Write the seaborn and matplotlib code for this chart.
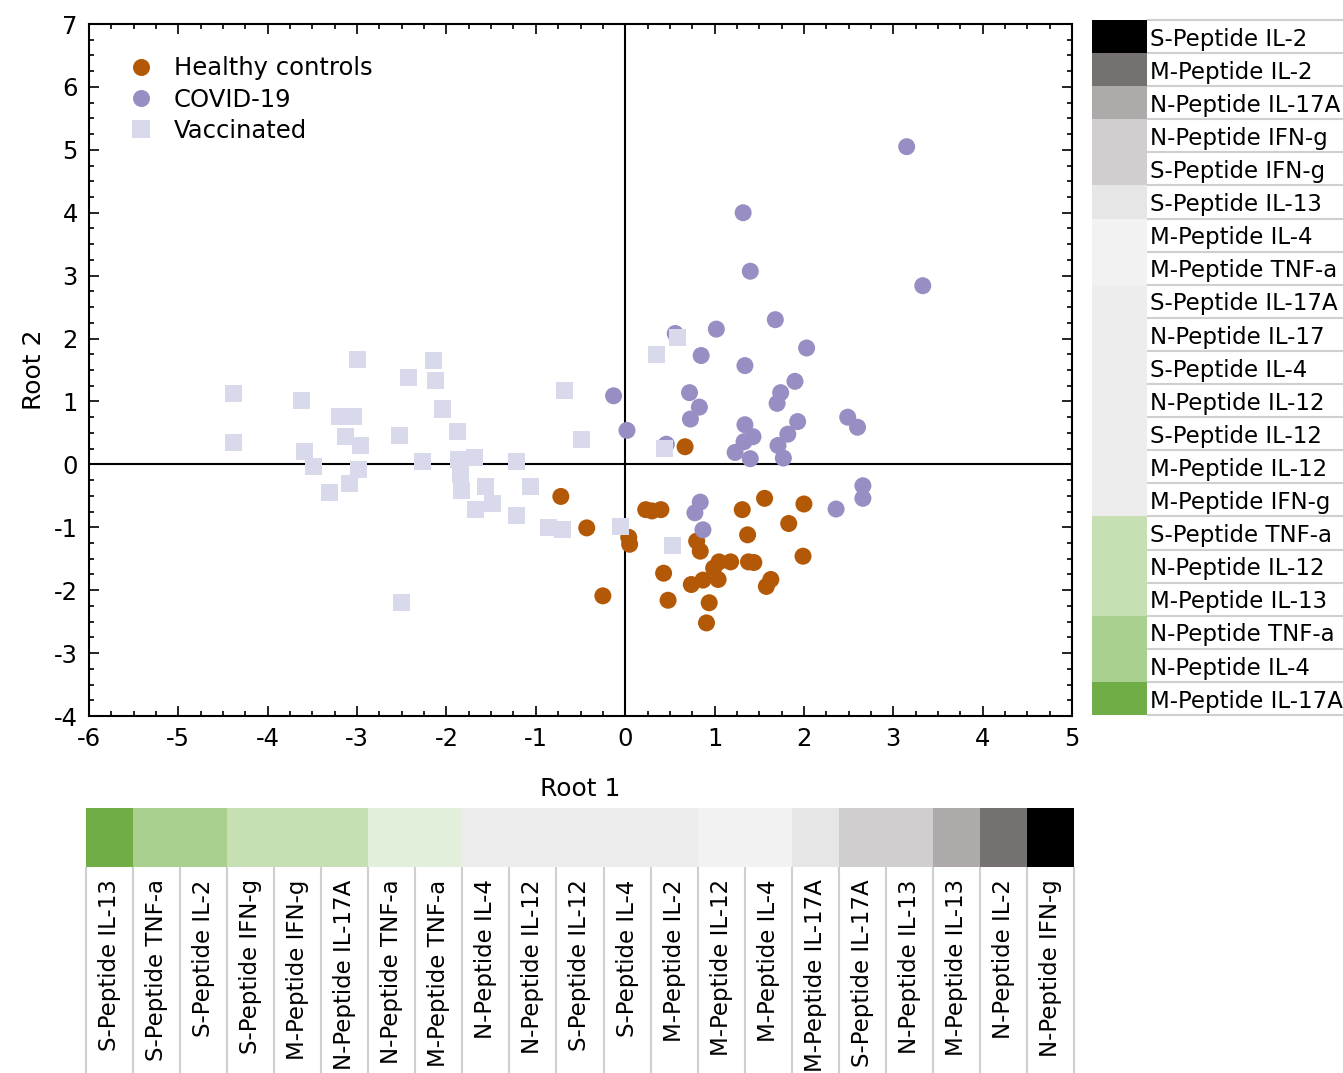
import numpy as np
import pandas as pd
import matplotlib
matplotlib.use("Agg")
import matplotlib.pyplot as plt
from matplotlib.colors import ListedColormap
from matplotlib.ticker import MultipleLocator
import seaborn as sns

# scatter data (Root 1, Root 2)
healthy_x = [-0.72, -0.43, -0.25, 0.04, 0.05, 0.23, 0.30, 0.40, 0.43, 0.48, 0.80, 0.84, 0.74, 0.87,
             1.05, 1.04, 1.18, 0.99, 0.94, 0.91, 1.31, 1.56, 1.37, 1.38, 1.44, 2.00, 1.83, 1.99, 1.63,
             1.58, 0.67]
healthy_y = [-0.51, -1.01, -2.09, -1.16, -1.27, -0.72, -0.74, -0.72, -1.73, -2.16, -1.22, -1.38, -1.91, -1.84,
             -1.55, -1.83, -1.55, -1.65, -2.20, -2.52, -0.72, -0.54, -1.12, -1.55, -1.56, -0.63, -0.94, -1.46, -1.83,
             -1.94, 0.28]
covid_x = [3.15, 1.32, 1.40, 3.33, 1.68, 1.02, 0.56, 2.03, 0.85, 1.34, 1.90, 1.74, 1.70, 0.72, 0.83,
           0.73, -0.13, 0.02, 0.46, 1.34, 1.43, 1.33, 1.23, 1.40, 1.93, 1.82, 1.71, 1.77, 2.49, 2.60,
           0.84, 0.78, 0.87, 2.36, 2.66, 2.66]
covid_y = [5.05, 4.00, 3.07, 2.84, 2.30, 2.15, 2.08, 1.85, 1.73, 1.57, 1.32, 1.14, 0.97, 1.14, 0.91,
           0.72, 1.09, 0.54, 0.32, 0.63, 0.44, 0.36, 0.19, 0.09, 0.68, 0.48, 0.30, 0.10, 0.75, 0.59,
           -0.60, -0.77, -1.04, -0.71, -0.34, -0.54]
vacc_x = [-4.38, -4.38, -3.62, -2.99, -2.15, -2.43, -2.12, -3.20, -3.04, -2.04, -3.13, -2.96, -2.53, -1.88,
          -3.59, -3.49, -2.98, -2.27, -1.86, -1.69, -1.84, -1.83, -3.08, -3.31, -1.56, -1.49, -1.67,
          -0.68, -0.49, -1.22, -1.06, -1.22, -0.86, -0.70, -0.05, 0.44, 0.35, 0.59, 0.53, -2.50]
vacc_y = [1.13, 0.34, 1.02, 1.67, 1.65, 1.38, 1.33, 0.76, 0.76, 0.88, 0.45, 0.30, 0.46, 0.52,
          0.21, -0.04, -0.08, 0.05, 0.08, 0.11, -0.16, -0.41, -0.31, -0.45, -0.35, -0.62, -0.72,
          1.18, 0.40, 0.04, -0.35, -0.82, -1.00, -1.03, -0.98, 0.26, 1.75, 2.02, -1.29, -2.19]

groups = ["Healthy controls", "COVID-19", "Vaccinated"]
group_colors = ["#b35806", "#998ec3", "#d8daeb"]

# colour strips
strip_colors = ["#70ad47", "#a9d08e", "#c6e0b4", "#e2efda", "#ededed", "#f2f2f2",
                "#e6e6e6", "#d0cece", "#aeaaaa", "#767171", "#000000"]
right_labels = ["S-Peptide IL-2", "M-Peptide IL-2", "N-Peptide IL-17A", "N-Peptide IFN-g",
                "S-Peptide IFN-g", "S-Peptide IL-13", "M-Peptide IL-4", "M-Peptide TNF-a",
                "S-Peptide IL-17A", "N-Peptide IL-17", "S-Peptide IL-4", "N-Peptide IL-12",
                "S-Peptide IL-12", "M-Peptide IL-12", "M-Peptide IFN-g", "S-Peptide TNF-a",
                "N-Peptide IL-12", "M-Peptide IL-13", "N-Peptide TNF-a", "N-Peptide IL-4",
                "M-Peptide IL-17A"]
right_codes = [10, 9, 8, 7, 7, 6, 5, 5, 4, 4, 4, 4, 4, 4, 4, 2, 2, 2, 1, 1, 0]
bottom_labels = ["S-Peptide IL-13", "S-Peptide TNF-a", "S-Peptide IL-2", "S-Peptide IFN-g",
                 "M-Peptide IFN-g", "N-Peptide IL-17A", "N-Peptide TNF-a", "M-Peptide TNF-a",
                 "N-Peptide IL-4", "N-Peptide IL-12", "S-Peptide IL-12", "S-Peptide IL-4",
                 "M-Peptide IL-2", "M-Peptide IL-12", "M-Peptide IL-4", "M-Peptide IL-17A",
                 "S-Peptide IL-17A", "N-Peptide IL-13", "M-Peptide IL-13", "N-Peptide IL-2",
                 "N-Peptide IFN-g"]
bottom_codes = [0, 1, 1, 2, 2, 2, 3, 3, 4, 4, 4, 4, 4, 5, 5, 6, 7, 7, 8, 9, 10]

df = pd.concat([
    pd.DataFrame({"x": healthy_x, "y": healthy_y, "group": groups[0]}),
    pd.DataFrame({"x": covid_x, "y": covid_y, "group": groups[1]}),
    pd.DataFrame({"x": vacc_x, "y": vacc_y, "group": groups[2]}),
], ignore_index=True)

sns.set_style("ticks")
plt.rcParams["font.family"] = ["DejaVu Sans"]
plt.rcParams["axes.unicode_minus"] = False
for k in ["text.color", "axes.labelcolor", "xtick.color", "ytick.color", "axes.edgecolor"]:
    plt.rcParams[k] = "black"

W, H = 1343, 1073
fig = plt.figure(figsize=(W / 100, H / 100), dpi=100)

def box(x0, y0, x1, y1):
    return [x0 / W, 1 - y1 / H, (x1 - x0) / W, (y1 - y0) / H]

ax = fig.add_axes(box(89, 24, 1072, 716))
sns.scatterplot(data=df, x="x", y="y", hue="group", style="group", hue_order=groups,
                style_order=groups, palette=dict(zip(groups, group_colors)),
                markers={groups[0]: "o", groups[1]: "o", groups[2]: "s"},
                s=150, linewidth=0, alpha=1, ax=ax, zorder=3)
ax.axhline(0, color="black", lw=1.5, zorder=2)
ax.axvline(0, color="black", lw=1.5, zorder=2)
ax.set_xlim(-6, 5)
ax.set_ylim(-4, 7)
ax.set_xticks(range(-6, 6))
ax.set_yticks(range(-4, 8))
ax.xaxis.set_minor_locator(MultipleLocator(0.25))
ax.yaxis.set_minor_locator(MultipleLocator(0.25))
ax.tick_params(which="both", direction="in", top=True, right=True, labelsize=17.5, width=1.2)
ax.tick_params(which="major", length=7, pad=8)
ax.tick_params(which="minor", length=3.5)
for sp in ax.spines.values():
    sp.set_linewidth(1.5)
ax.set_xlabel("Root 1", fontsize=18, labelpad=19)
ax.set_ylabel("Root 2", fontsize=18, labelpad=6)
ax.legend(loc="upper left", bbox_to_anchor=(0.006, 0.985), frameon=False, fontsize=17.5,
          handletextpad=0.35, labelspacing=0.3, markerscale=1.0)

cmap = ListedColormap(strip_colors)
n = len(strip_colors)
line_col = "#cfcfcf"

# right strip
axr = fig.add_axes(box(1092, 20, 1147, 715))
sns.heatmap(np.array(right_codes).reshape(-1, 1), cmap=cmap, vmin=-0.5, vmax=n - 0.5,
            cbar=False, xticklabels=False, yticklabels=False, ax=axr)
axrl = fig.add_axes(box(1147, 20, 1343, 715))
axrl.set_xlim(0, 1)
axrl.set_ylim(len(right_labels), 0)
axrl.axis("off")
for i, lab in enumerate(right_labels):
    axrl.text(0.015, i + 0.58, lab, ha="left", va="center", fontsize=16.5)
axrl.hlines(np.arange(len(right_labels) + 1), 0, 1, color=line_col, lw=1.5, clip_on=False)

# bottom strip
axb = fig.add_axes(box(86, 808, 1074, 867))
sns.heatmap(np.array(bottom_codes).reshape(1, -1), cmap=cmap, vmin=-0.5, vmax=n - 0.5,
            cbar=False, xticklabels=False, yticklabels=False, ax=axb)
axbl = fig.add_axes(box(86, 867, 1074, 1073))
axbl.set_xlim(0, len(bottom_labels))
axbl.set_ylim(1, 0)
axbl.axis("off")
for i, lab in enumerate(bottom_labels):
    axbl.text(i + 0.5, 0.06, lab, ha="center", va="top", rotation=90, fontsize=16.5)
axbl.vlines(np.arange(len(bottom_labels) + 1), 0, 1, color=line_col, lw=1.5, clip_on=False)

fig.savefig("out.png", dpi=100)
